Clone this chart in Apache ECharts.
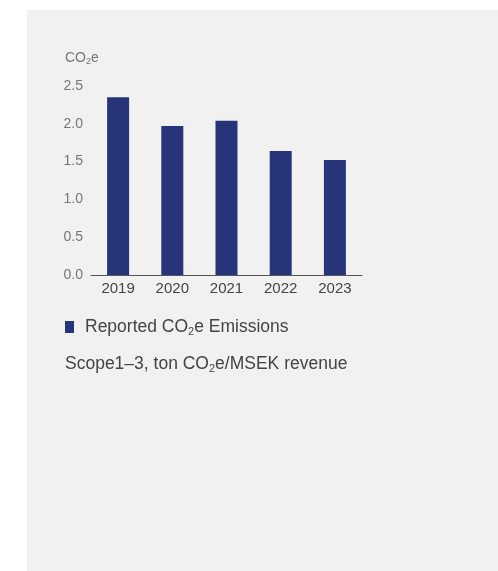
<!DOCTYPE html>
<html>
<head>
<meta charset="utf-8">
<script src="https://cdn.jsdelivr.net/npm/echarts@6/dist/echarts.min.js"></script>
<style>
html,body{margin:0;padding:0;background:#ffffff;}
#panel{position:absolute;left:27px;top:10px;width:471px;height:561px;background:#f1f1f1;}
#chart{position:absolute;left:0;top:0;width:498px;height:571px;}
</style>
</head>
<body>
<div id="panel"></div>
<div id="chart"></div>
<script>
const categories = ['2019', '2020', '2021', '2022', '2023'];
const emissions = [2.35, 1.97, 2.04, 1.64, 1.52];
const yTicks = [0, 0.5, 1.0, 1.5, 2.0, 2.5];
const seriesName = 'Reported CO2e Emissions';
const unitText = 'Scope1–3, ton CO2e/MSEK revenue';

const FONT = 'Liberation Sans, Arial, sans-serif';
const legendRich = {
  a: {fontSize: 17.5, color: '#444', fontFamily: FONT},
  s: {fontSize: 11, color: '#444', fontFamily: FONT, padding: [9, 0, 0, 0]}
};
const gRich = {
  a: {fontSize: 17.5, fill: '#444', fontFamily: FONT},
  s: {fontSize: 11, fill: '#444', fontFamily: FONT, padding: [9, 0, 0, 0]},
  ta: {fontSize: 14, fill: '#777', fontFamily: FONT},
  ts: {fontSize: 9, fill: '#777', fontFamily: FONT, padding: [7, 0, 0, 0]}
};
function co2(str, a, s) {
  return str.split('CO2').map(p => '{' + a + '|' + p + '}').join('{' + a + '|CO}{' + s + '|2}');
}

const chart = echarts.init(document.getElementById('chart'), null, {renderer: 'canvas'});
chart.setOption({
  backgroundColor: 'transparent',
  animation: false,
  grid: {left: 91, right: 136, top: 86, bottom: 296},
  xAxis: {
    type: 'category',
    data: categories,
    axisLine: {lineStyle: {color: '#555', width: 1}},
    axisTick: {show: false},
    axisLabel: {color: '#444', fontSize: 15, fontFamily: FONT, margin: 6}
  },
  yAxis: {
    type: 'value',
    min: yTicks[0],
    max: yTicks[yTicks.length - 1],
    interval: 0.5,
    splitLine: {show: false},
    axisLine: {show: false},
    axisTick: {show: false},
    axisLabel: {color: '#777', fontSize: 14, fontFamily: FONT, margin: 8,
      formatter: v => v.toFixed(1)}
  },
  legend: {
    left: 65, top: 318, padding: 0,
    itemWidth: 9, itemHeight: 12, icon: 'rect',
    data: [seriesName],
    formatter: n => co2(n, 'a', 's'),
    textStyle: {rich: legendRich, padding: [0, 0, 0, 6]}
  },
  series: [{
    name: seriesName,
    type: 'bar',
    data: emissions,
    barWidth: 22,
    itemStyle: {color: '#283479'}
  }],
  graphic: [
    {type: 'text', left: 65, top: 355, style: {text: co2(unitText, 'a', 's'), rich: gRich}},
    {type: 'text', left: 65, top: 51, style: {text: co2('CO2e', 'ta', 'ts'), rich: gRich}}
  ]
});
</script>
</body>
</html>
